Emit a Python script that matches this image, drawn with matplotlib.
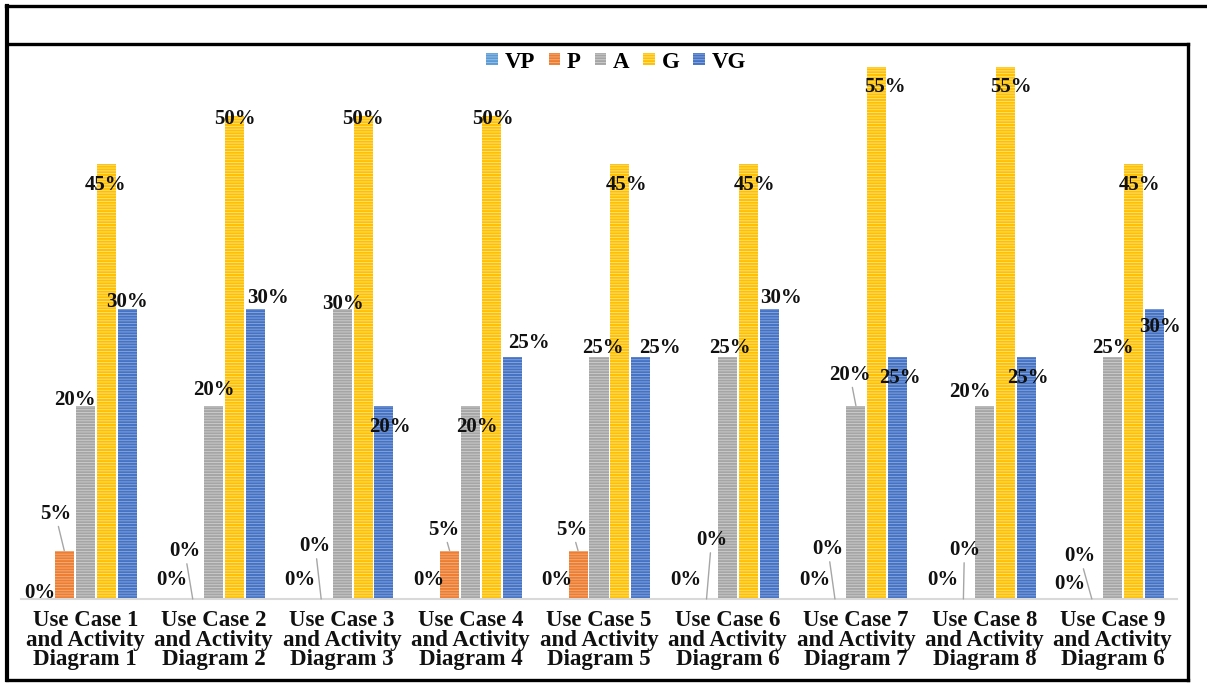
import matplotlib.pyplot as plt
from matplotlib.lines import Line2D
from matplotlib.patches import Patch
import numpy as np

categories = ["Use Case 1\nand Activity\nDiagram 1", "Use Case 2\nand Activity\nDiagram 2",
              "Use Case 3\nand Activity\nDiagram 3", "Use Case 4\nand Activity\nDiagram 4",
              "Use Case 5\nand Activity\nDiagram 5", "Use Case 6\nand Activity\nDiagram 6",
              "Use Case 7\nand Activity\nDiagram 7", "Use Case 8\nand Activity\nDiagram 8",
              "Use Case 9\nand Activity\nDiagram 6"]
series = ["VP", "P", "A", "G", "VG"]
vp = [0, 0, 0, 0, 0, 0, 0, 0, 0]
p = [5, 0, 0, 5, 5, 0, 0, 0, 0]
a = [20, 20, 30, 20, 25, 25, 20, 20, 25]
g = [45, 50, 50, 50, 45, 45, 55, 55, 45]
vg = [30, 30, 20, 25, 25, 30, 25, 25, 30]
values = [vp, p, a, g, vg]

colors = ["#5B9BD5", "#ED7D31", "#A5A5A5", "#FFC000", "#4472C4"]
stripes = ["#9DC3E6", "#F4B183", "#D0D0D0", "#FFE38A", "#8FAADC"]

# label offsets from the bar top (pixels: dx, dy up), and whether a leader line is drawn
label_dx = [
    [-3, 0, 0, 0, 0, 0, 1, 0, -1],
    [-9, -8, -6, -6, -6, 5, -7, 1, -12],
    [-10, 0, 1, 6, 4, 2, -6, -14, 0],
    [-1, 0, 0, 1, 7, 6, 8, 6, 6],
    [0, 12, 6, 17, 19, 12, 2, 2, 5],
]
label_dy = [
    [6, 19, 19, 19, 19, 19, 19, 19, 15],
    [37, 48, 53, 21, 21, 59, 50, 49, 43],
    [6, 16, 5, -21, 9, 9, 31, 14, 9],
    [-21, -3, -3, -3, -21, -21, -20, -20, -21],
    [7, 11, -21, 14, 9, 11, -21, -21, -18],
]
leader = [
    [0] * 9,
    [1] * 9,
    [0, 0, 0, 0, 0, 0, 1, 0, 0],
    [0] * 9,
    [0] * 9,
]

serif = "Liberation Serif"
fig = plt.figure(figsize=(12.07, 6.83), dpi=100)
ax = fig.add_axes([21 / 1207, 84 / 683, 1156 / 1207, 554 / 683])

x = np.arange(len(categories))
width = 0.148
step = 0.163
plt.rcParams['hatch.linewidth'] = 0.6
for i, name in enumerate(series):
    pos = x + (i - 2) * step
    bars = ax.bar(pos, values[i], width, color=colors[i], edgecolor=stripes[i],
                  linewidth=0, hatch="------", label=name)
    for j, b in enumerate(bars):
        top = b.get_height()
        xc = b.get_x() + b.get_width() / 2
        arrow = dict(arrowstyle="-", color="#A6A6A6", lw=1, shrinkA=0, shrinkB=0) if leader[i][j] else None
        ax.annotate(f"{values[i][j]}%", xy=(xc, top), xytext=(label_dx[i][j], label_dy[i][j]),
                    textcoords="offset pixels", ha="center", va="center",
                    fontsize=15, fontweight="bold", family=serif, color="#111111",
                    arrowprops=arrow, annotation_clip=False)

ax.set_xlim(-0.5, len(categories) - 0.5)
ax.set_ylim(0, 554 / 9.67)
ax.set_yticks([])
ax.set_xticks(x)
ax.set_xticklabels(categories, fontsize=16.5, fontweight="bold", family=serif,
                   linespacing=0.9, color="#111111")
ax.tick_params(axis="x", length=0, pad=8)
for s in ["top", "left", "right"]:
    ax.spines[s].set_visible(False)
ax.spines["bottom"].set_color("#D9D9D9")
ax.spines["bottom"].set_linewidth(1.5)

handles = [Patch(facecolor=colors[i], edgecolor=stripes[i], linewidth=0, hatch="------")
           for i in range(len(series))]
fig.legend(handles, series, loc="center", bbox_to_anchor=(616 / 1207, 1 - 62 / 683), ncol=5,
           frameon=False, prop=dict(family=serif, weight="bold", size=16.5),
           handlelength=0.5, handleheight=0.45, handletextpad=0.3, columnspacing=0.6)

# frame lines
lw = 2.4
fig.add_artist(Line2D([6 / 1207, 1], [1 - 6 / 683, 1 - 6 / 683], color="black", lw=lw, transform=fig.transFigure))
fig.add_artist(Line2D([7 / 1207, 7 / 1207], [1 - 6 / 683, 3 / 683], color="black", lw=lw + 0.6, transform=fig.transFigure))
fig.add_artist(Line2D([7 / 1207, 1188 / 1207], [1 - 44 / 683, 1 - 44 / 683], color="black", lw=lw, transform=fig.transFigure))
fig.add_artist(Line2D([1188 / 1207, 1188 / 1207], [1 - 44 / 683, 3 / 683], color="black", lw=lw, transform=fig.transFigure))
fig.add_artist(Line2D([7 / 1207, 1188 / 1207], [3 / 683, 3 / 683], color="black", lw=lw, transform=fig.transFigure))

fig.savefig("out.png", dpi=100)
